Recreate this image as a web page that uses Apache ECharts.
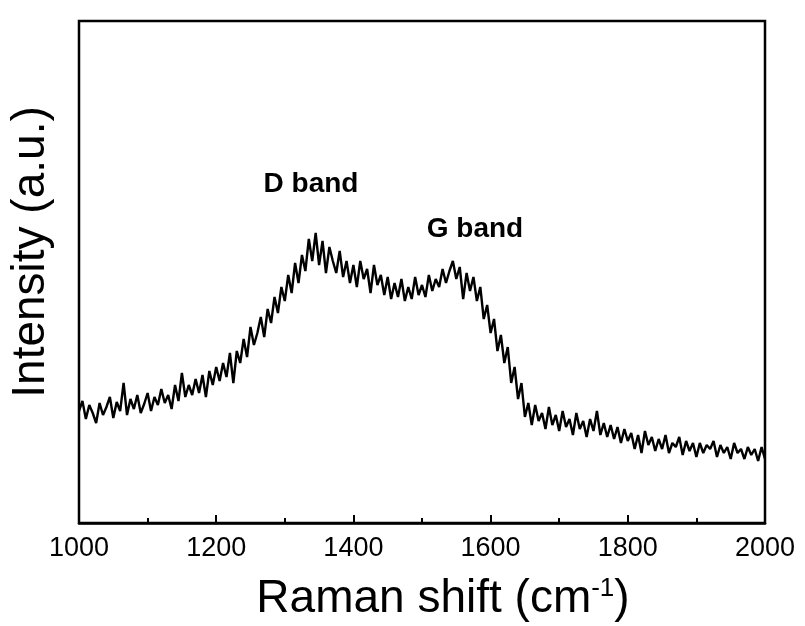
<!DOCTYPE html>
<html>
<head>
<meta charset="utf-8">
<script src="https://cdn.jsdelivr.net/npm/echarts@6/dist/echarts.min.js"></script>
<style>
html,body{margin:0;padding:0;background:#fff;}
#chart{width:805px;height:626px;}
</style>
</head>
<body>
<div id="chart"></div>
<script>
// Raman shift sampling (cm^-1): start and step of the measured points
const shiftStart = 1000;
const shiftStep = 5;
// Intensity (a.u.), one value per sample
const intensity = [
112,122,104,118,110,100,120,108,116,126,105,121,112,140,108,124,114,128,110,119,
130,112,126,118,134,120,128,114,138,122,150,126,138,128,144,130,148,126,152,138,
156,142,160,146,170,140,172,160,184,166,196,178,190,206,186,214,200,226,210,236,
222,248,230,260,240,268,252,284,262,290,258,282,250,276,262,250,272,246,262,240,
258,236,262,244,254,230,258,238,248,228,246,224,240,226,244,222,236,224,246,228,
238,226,248,232,244,236,254,240,252,262,244,256,224,250,232,246,222,236,204,218,
190,204,172,188,160,176,140,156,124,140,106,120,98,118,102,110,94,116,98,108,
92,112,96,104,88,110,94,102,86,104,92,112,88,100,86,98,84,96,80,94,
82,90,74,88,70,92,78,86,72,84,74,88,70,80,76,86,68,82,72,80,
66,80,70,78,74,82,66,78,70,76,64,80,70,74,64,76,68,74,62,76,
64
];
const xTicks = [1000, 1200, 1400, 1600, 1800, 2000];
const annotations = [
  {text: 'D band', x: 311, y: 184},
  {text: 'G band', x: 475, y: 229}
];

const seriesData = intensity.map((v, i) => [shiftStart + shiftStep * i, v]);

const chart = echarts.init(document.getElementById('chart'), null, {renderer: 'canvas'});
const font = 'Arial, "Liberation Sans", sans-serif';
chart.setOption({
  animation: false,
  backgroundColor: '#ffffff',
  grid: {left: 79, right: 40, top: 21, bottom: 103, show: true, borderColor: '#000', borderWidth: 2.5, backgroundColor: 'transparent'},
  xAxis: {
    type: 'value', min: xTicks[0], max: xTicks[xTicks.length - 1], interval: 200,
    axisLine: {show: true, onZero: false, lineStyle: {color: '#000', width: 2.5}},
    axisTick: {show: true, inside: true, length: 8, lineStyle: {color: '#000', width: 2}},
    minorTick: {show: true, splitNumber: 2, length: 5, lineStyle: {color: '#000', width: 2}},
    splitLine: {show: false},
    axisLabel: {color: '#000', fontFamily: font, fontSize: 27, margin: 12, formatter: v => String(v)}
  },
  yAxis: {
    type: 'value', min: 0, max: 502,
    axisLine: {show: false}, axisTick: {show: false}, axisLabel: {show: false}, splitLine: {show: false}
  },
  series: [{
    type: 'line', data: seriesData, showSymbol: false, symbol: 'none',
    lineStyle: {color: '#000', width: 2.4}, itemStyle: {color: '#000'}
  }],
  graphic: [
    ...annotations.map(a => ({
      type: 'text', x: a.x, y: a.y,
      style: {text: a.text, fill: '#000', font: 'bold 28px ' + font, textAlign: 'center', textVerticalAlign: 'middle'}
    })),
    {
      type: 'text', x: 443, y: 599,
      style: {
        text: '{m|Raman shift (cm}{s|-1}{m|)}', textAlign: 'center', textVerticalAlign: 'middle',
        rich: {
          m: {fontSize: 46, fontFamily: font, fill: '#000', verticalAlign: 'bottom'},
          s: {fontSize: 26, fontFamily: font, fill: '#000', verticalAlign: 'top', padding: [0, 0, 20, 0]}
        }
      }
    },
    {
      type: 'text', x: 31, y: 252, rotation: Math.PI / 2,
      style: {text: 'Intensity (a.u.)', fill: '#000', font: '46px ' + font, textAlign: 'center', textVerticalAlign: 'middle'}
    }
  ]
});
</script>
</body>
</html>
